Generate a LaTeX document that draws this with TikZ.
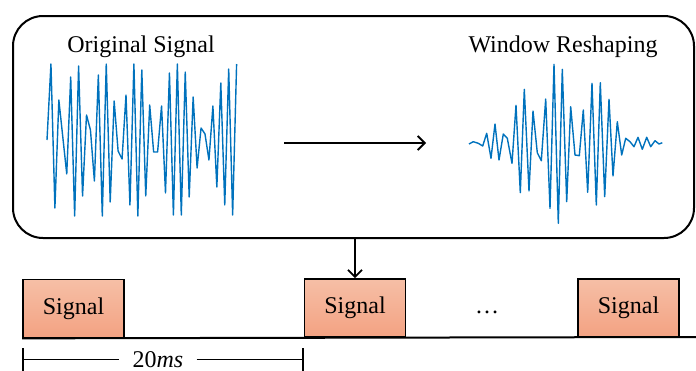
\documentclass[tikz,border=0pt]{standalone}
\usepackage{fontspec}
\setmainfont{Liberation Serif}
\usetikzlibrary{arrows.meta}
\definecolor{wave}{HTML}{0072BD}
\definecolor{boxtop}{HTML}{F6BFA6}
\definecolor{boxbot}{HTML}{F3A282}
\begin{document}
\begin{tikzpicture}[x=0.5pt,y=-0.5pt,
  wavestyle/.style={draw=wave,line width=0.7pt,line join=round},
  sigbox/.style={draw=black,line width=0.85pt,top color=boxtop,bottom color=boxbot,
     minimum width=50.5pt,minimum height=29pt,inner sep=0pt,font=\fontsize{12}{14}\selectfont},
  lbl/.style={font=\fontsize{12}{14}\selectfont,inner sep=0pt,anchor=base},
  arr/.style={-{Straight Barb[length=3.5pt,width=7pt,line width=0.9pt]},line width=0.9pt},
  dimline/.style={line width=0.9pt}]
\useasboundingbox (0,0) rectangle (696,370);
% big rounded box
\node[draw,line width=1pt,rounded corners=15pt,minimum width=340.5pt,minimum height=111pt,inner sep=0pt] (big) at (353.5,127) {};
\node[lbl] (t1) at (141,52) {Original Signal};
\node[lbl] (t2) at (563,52) {Window Reshaping};
% original signal
\draw[wavestyle] plot coordinates {
(47,140) (50.95,64) (54.9,208) (58.85,100) (62.8,137) (66.75,174) (70.7,77) (74.65,216)
(78.6,66) (82.55,196) (86.5,115) (90.45,130) (94.4,181) (98.35,75) (102.3,216) (106.25,64)
(110.2,202) (114.15,101) (118.1,151) (122.05,159) (126,95) (129.95,205) (133.9,64) (137.85,216)
(141.8,70) (145.75,196) (149.7,105) (153.65,152) (157.6,152) (161.55,106) (165.5,193) (169.45,73)
(173.4,215) (177.35,64) (181.3,215) (185.25,72) (189.2,197) (193.15,97) (197.1,168) (201.05,128)
(205,134) (208.95,160) (212.9,106) (216.85,187) (220.8,83) (224.75,205) (228.7,69) (232.65,215) (236.6,64)};
% reshaped signal
\draw[wavestyle] plot coordinates {
(469,144) (473.3,141.7) (478.3,143.3) (482.7,146) (486.7,133.3) (491,158.3) (495,124) (499,160)
(503.3,134) (507.3,138.3) (512,163.3) (516,105.3) (520.3,192.7) (524.3,89.3) (529,191) (533,111)
(537.3,152.7) (541.3,160.7) (545.7,99) (550,208.3) (554,64.3) (558.3,223.3) (562.3,69.3) (566.7,201.7)
(570.7,106.7) (575,155) (579.3,155.7) (583.3,110) (587.7,192.3) (592,83.3) (596.3,205) (600.3,82.7)
(604.7,196.7) (609,99.3) (613,176) (617.3,121.7) (621.7,155) (625.7,138.3) (630,141.7) (634,146.7)
(638,137.3) (642.3,149.3) (646.7,137.3) (650.7,146.7) (655,140.7) (659,144) (662.3,142.7)};
% middle arrow
\coordinate (a1) at (284,143);
\coordinate (a2) at (426,143);
\draw[arr] (a1) -- (a2);
% signal boxes
\node[sigbox] (b1) at (73.5,308.5) {Signal};
\node[sigbox] (b2) at (355,308) {Signal};
\node[sigbox] (b3) at (628.5,308) {Signal};
\node[lbl] (dots) at (487,313) {\dots};
% timeline
\coordinate (tend) at (696,337);
\draw[line width=1pt] (b1.south west) -- (tend);
\draw[arr] (b2.north |- big.south) -- (b2.north);
% dimension
\coordinate (d1) at (23,359.5);
\coordinate (d2) at (303,359.5);
\coordinate (d1t) at (23,348);
\coordinate (d1b) at (23,372);
\coordinate (d2t) at (303,348);
\coordinate (d2b) at (303,372);
\node[lbl] (dim) at (158,367) {20\textit{ms}};
\draw[dimline] (d1t) -- (d1b);
\draw[dimline] (d2t) -- (d2b);
\draw[dimline] (d1) -- ([xshift=-6.5pt]dim.west |- d1);
\draw[dimline] ([xshift=6.5pt]dim.east |- d2) -- (d2);
\end{tikzpicture}
\end{document}
